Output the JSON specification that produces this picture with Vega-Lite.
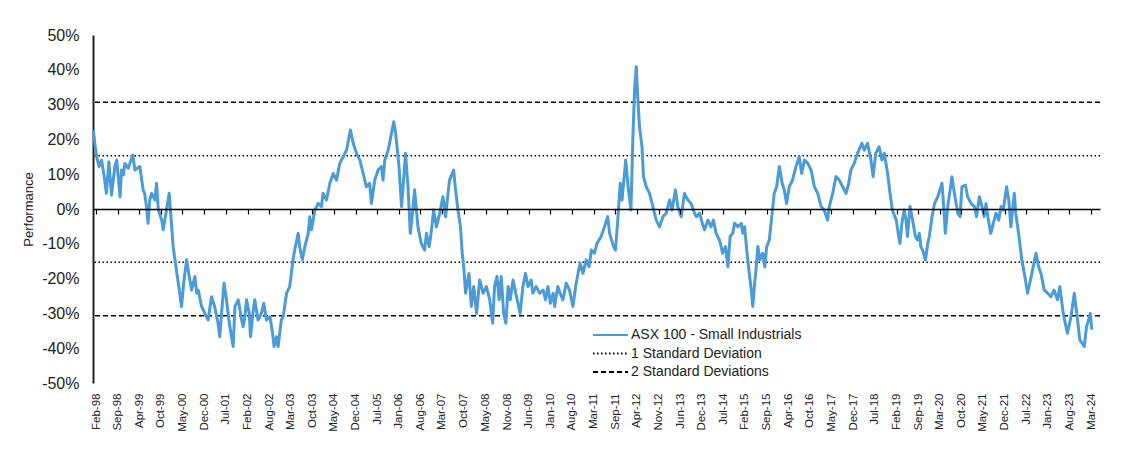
{
  "$schema": "https://vega.github.io/schema/vega-lite/v6.json",
  "width": 1007,
  "height": 348,
  "autosize": {"type": "none"},
  "padding": {"left": 93, "top": 35, "right": 26, "bottom": 77},
  "background": "white",
  "config": {"view": {"stroke": null}, "font": "Liberation Sans", "axisY": {"labelOverlap": false}, "axis": {"labelOverlap": false}},
  "datasets": {
    "refs": [
      {"series": "1 Standard Deviation", "v": 15.3},
      {"series": "1 Standard Deviation", "v": -15.3},
      {"series": "2 Standard Deviations", "v": 30.7},
      {"series": "2 Standard Deviations", "v": -30.7}
    ],
    "perf": [
      {"d": "1998-01-21", "v": 22.7}, {"d": "1998-02-08", "v": 17.9}, {"d": "1998-02-22", "v": 15.0}, {"d": "1998-03-18", "v": 12.2},
      {"d": "1998-04-10", "v": 14.1}, {"d": "1998-05-03", "v": 9.8}, {"d": "1998-05-26", "v": 4.5}, {"d": "1998-06-19", "v": 13.6},
      {"d": "1998-07-14", "v": 4.0}, {"d": "1998-08-15", "v": 12.2}, {"d": "1998-09-02", "v": 14.1}, {"d": "1998-10-04", "v": 3.5},
      {"d": "1998-10-18", "v": 11.2}, {"d": "1998-11-05", "v": 9.8}, {"d": "1998-11-19", "v": 13.1}, {"d": "1998-12-21", "v": 11.7},
      {"d": "1999-02-03", "v": 15.5}, {"d": "1999-02-23", "v": 11.2}, {"d": "1999-04-11", "v": 12.2}, {"d": "1999-05-13", "v": 5.5},
      {"d": "1999-05-27", "v": 4.5}, {"d": "1999-06-14", "v": 0.7}, {"d": "1999-06-29", "v": -4.1}, {"d": "1999-07-15", "v": 2.6},
      {"d": "1999-08-02", "v": 4.5}, {"d": "1999-09-03", "v": 2.6}, {"d": "1999-09-18", "v": 7.4}, {"d": "1999-10-05", "v": -0.3},
      {"d": "1999-11-06", "v": -3.2}, {"d": "1999-11-21", "v": -6.0}, {"d": "1999-12-22", "v": -0.3}, {"d": "2000-01-17", "v": 4.5},
      {"d": "2000-02-10", "v": -5.1}, {"d": "2000-02-24", "v": -10.8}, {"d": "2000-03-12", "v": -14.6}, {"d": "2000-04-04", "v": -19.4},
      {"d": "2000-04-27", "v": -24.2}, {"d": "2000-05-14", "v": -28.0}, {"d": "2000-06-07", "v": -20.4}, {"d": "2000-07-02", "v": -14.6},
      {"d": "2000-07-22", "v": -18.5}, {"d": "2000-08-18", "v": -23.3}, {"d": "2000-09-19", "v": -19.4}, {"d": "2000-10-06", "v": -24.2},
      {"d": "2000-10-21", "v": -23.3}, {"d": "2000-11-22", "v": -28.0}, {"d": "2000-12-23", "v": -30.0}, {"d": "2001-01-24", "v": -31.9},
      {"d": "2001-02-25", "v": -25.2}, {"d": "2001-03-27", "v": -28.0}, {"d": "2001-04-28", "v": -32.8}, {"d": "2001-05-15", "v": -36.7},
      {"d": "2001-06-01", "v": -30.0}, {"d": "2001-06-25", "v": -21.3}, {"d": "2001-07-18", "v": -26.1}, {"d": "2001-08-19", "v": -33.8},
      {"d": "2001-09-20", "v": -39.5}, {"d": "2001-10-07", "v": -28.0}, {"d": "2001-11-08", "v": -26.1}, {"d": "2001-12-10", "v": -31.9},
      {"d": "2001-12-24", "v": -33.8}, {"d": "2002-01-11", "v": -30.9}, {"d": "2002-01-26", "v": -26.1}, {"d": "2002-02-21", "v": -30.0},
      {"d": "2002-03-05", "v": -36.7}, {"d": "2002-03-28", "v": -30.0}, {"d": "2002-04-15", "v": -26.1}, {"d": "2002-05-16", "v": -31.9},
      {"d": "2002-06-17", "v": -30.0}, {"d": "2002-07-10", "v": -27.1}, {"d": "2002-08-05", "v": -31.9}, {"d": "2002-09-07", "v": -30.9},
      {"d": "2002-10-02", "v": -35.7}, {"d": "2002-10-17", "v": -39.5}, {"d": "2002-11-09", "v": -36.7}, {"d": "2002-11-24", "v": -39.5},
      {"d": "2002-12-25", "v": -31.9}, {"d": "2003-01-12", "v": -30.9}, {"d": "2003-02-13", "v": -24.2}, {"d": "2003-03-15", "v": -22.3},
      {"d": "2003-04-16", "v": -14.6}, {"d": "2003-05-02", "v": -11.8}, {"d": "2003-06-04", "v": -7.0}, {"d": "2003-06-18", "v": -10.8},
      {"d": "2003-07-14", "v": -14.6}, {"d": "2003-08-07", "v": -10.8}, {"d": "2003-09-08", "v": -7.0}, {"d": "2003-09-23", "v": -2.2},
      {"d": "2003-10-09", "v": -6.0}, {"d": "2003-11-11", "v": -0.3}, {"d": "2003-12-12", "v": 1.6}, {"d": "2004-01-13", "v": 0.7},
      {"d": "2004-01-28", "v": 4.5}, {"d": "2004-03-01", "v": 2.6}, {"d": "2004-04-02", "v": 7.4}, {"d": "2004-05-04", "v": 10.2},
      {"d": "2004-06-05", "v": 8.3}, {"d": "2004-07-06", "v": 13.1}, {"d": "2004-08-08", "v": 15.0}, {"d": "2004-09-09", "v": 16.9},
      {"d": "2004-10-16", "v": 22.7}, {"d": "2004-11-12", "v": 18.9}, {"d": "2004-12-13", "v": 16.0}, {"d": "2005-01-14", "v": 14.1},
      {"d": "2005-02-15", "v": 10.2}, {"d": "2005-03-17", "v": 6.4}, {"d": "2005-04-18", "v": 7.4}, {"d": "2005-05-05", "v": 1.6},
      {"d": "2005-06-06", "v": 8.3}, {"d": "2005-07-08", "v": 11.2}, {"d": "2005-08-09", "v": 12.2}, {"d": "2005-08-24", "v": 8.3},
      {"d": "2005-09-10", "v": 14.1}, {"d": "2005-10-12", "v": 16.9}, {"d": "2005-11-13", "v": 21.7}, {"d": "2005-12-05", "v": 25.1},
      {"d": "2005-12-23", "v": 21.7}, {"d": "2006-01-24", "v": 12.2}, {"d": "2006-02-17", "v": 0.7}, {"d": "2006-03-04", "v": 6.4},
      {"d": "2006-03-27", "v": 16.0}, {"d": "2006-04-20", "v": 6.4}, {"d": "2006-05-12", "v": -7.0}, {"d": "2006-06-02", "v": -1.2},
      {"d": "2006-06-22", "v": 5.5}, {"d": "2006-07-24", "v": -5.1}, {"d": "2006-08-25", "v": -9.9}, {"d": "2006-09-26", "v": -11.8},
      {"d": "2006-10-13", "v": -7.0}, {"d": "2006-11-09", "v": -10.8}, {"d": "2006-12-01", "v": -6.0}, {"d": "2006-12-21", "v": -0.3},
      {"d": "2007-01-17", "v": -5.1}, {"d": "2007-02-18", "v": -1.2}, {"d": "2007-03-20", "v": 3.5}, {"d": "2007-04-15", "v": -2.2},
      {"d": "2007-05-08", "v": 4.5}, {"d": "2007-05-22", "v": 8.3}, {"d": "2007-07-01", "v": 11.2}, {"d": "2007-07-16", "v": 6.4},
      {"d": "2007-08-11", "v": -0.3}, {"d": "2007-09-04", "v": -5.1}, {"d": "2007-09-21", "v": -12.7}, {"d": "2007-10-05", "v": -16.6},
      {"d": "2007-10-23", "v": -24.2}, {"d": "2007-11-24", "v": -18.5}, {"d": "2007-12-17", "v": -28.0}, {"d": "2008-01-09", "v": -22.3},
      {"d": "2008-02-05", "v": -30.0}, {"d": "2008-03-06", "v": -20.4}, {"d": "2008-04-07", "v": -24.2}, {"d": "2008-05-09", "v": -22.3},
      {"d": "2008-06-10", "v": -26.1}, {"d": "2008-07-08", "v": -32.8}, {"d": "2008-07-26", "v": -22.3}, {"d": "2008-08-18", "v": -19.4},
      {"d": "2008-09-08", "v": -26.1}, {"d": "2008-09-28", "v": -19.4}, {"d": "2008-10-21", "v": -30.0}, {"d": "2008-11-11", "v": -32.8},
      {"d": "2008-12-03", "v": -22.3}, {"d": "2008-12-23", "v": -26.1}, {"d": "2009-01-19", "v": -20.4}, {"d": "2009-02-14", "v": -24.2},
      {"d": "2009-03-28", "v": -30.0}, {"d": "2009-04-23", "v": -22.3}, {"d": "2009-05-18", "v": -18.5}, {"d": "2009-06-11", "v": -22.3},
      {"d": "2009-07-12", "v": -20.4}, {"d": "2009-07-27", "v": -24.2}, {"d": "2009-08-28", "v": -22.3}, {"d": "2009-10-02", "v": -24.2},
      {"d": "2009-11-03", "v": -23.3}, {"d": "2009-11-26", "v": -26.1}, {"d": "2009-12-19", "v": -22.3}, {"d": "2010-01-11", "v": -27.1},
      {"d": "2010-02-07", "v": -24.2}, {"d": "2010-02-21", "v": -28.0}, {"d": "2010-03-23", "v": -22.3}, {"d": "2010-04-15", "v": -24.2},
      {"d": "2010-05-11", "v": -26.1}, {"d": "2010-06-12", "v": -21.3}, {"d": "2010-07-13", "v": -23.3}, {"d": "2010-08-15", "v": -28.0},
      {"d": "2010-09-10", "v": -22.3}, {"d": "2010-10-03", "v": -18.5}, {"d": "2010-10-23", "v": -15.6}, {"d": "2010-11-19", "v": -18.5},
      {"d": "2010-12-20", "v": -14.6}, {"d": "2011-01-16", "v": -16.6}, {"d": "2011-02-08", "v": -11.8}, {"d": "2011-03-09", "v": -12.7},
      {"d": "2011-04-02", "v": -9.9}, {"d": "2011-05-12", "v": -7.9}, {"d": "2011-06-13", "v": -5.1}, {"d": "2011-07-14", "v": -2.2},
      {"d": "2011-08-01", "v": -7.0}, {"d": "2011-09-08", "v": -10.8}, {"d": "2011-09-26", "v": -11.8}, {"d": "2011-10-18", "v": -3.2},
      {"d": "2011-11-11", "v": 7.4}, {"d": "2011-11-28", "v": 2.6}, {"d": "2012-01-02", "v": 14.1}, {"d": "2012-01-25", "v": 6.4},
      {"d": "2012-02-21", "v": -0.3}, {"d": "2012-03-11", "v": 20.8}, {"d": "2012-03-28", "v": 35.1}, {"d": "2012-04-12", "v": 40.9},
      {"d": "2012-04-24", "v": 33.2}, {"d": "2012-05-13", "v": 23.6}, {"d": "2012-06-06", "v": 17.9}, {"d": "2012-06-20", "v": 9.3},
      {"d": "2012-07-16", "v": 6.4}, {"d": "2012-08-17", "v": 4.5}, {"d": "2012-09-18", "v": 0.7}, {"d": "2012-10-20", "v": -3.2},
      {"d": "2012-11-21", "v": -5.1}, {"d": "2012-12-23", "v": -2.2}, {"d": "2013-01-24", "v": -1.2}, {"d": "2013-02-25", "v": 2.6},
      {"d": "2013-03-20", "v": -0.3}, {"d": "2013-04-22", "v": 5.5}, {"d": "2013-05-14", "v": 0.7}, {"d": "2013-06-16", "v": -2.2},
      {"d": "2013-07-17", "v": 4.5}, {"d": "2013-08-18", "v": 2.6}, {"d": "2013-09-19", "v": 1.6}, {"d": "2013-10-21", "v": -1.2},
      {"d": "2013-11-08", "v": -2.2}, {"d": "2013-12-09", "v": -1.2}, {"d": "2014-01-04", "v": -4.1}, {"d": "2014-01-25", "v": -6.0},
      {"d": "2014-02-26", "v": -3.2}, {"d": "2014-03-28", "v": -5.1}, {"d": "2014-04-20", "v": -3.2}, {"d": "2014-05-16", "v": -7.0},
      {"d": "2014-06-17", "v": -8.9}, {"d": "2014-07-18", "v": -12.7}, {"d": "2014-08-14", "v": -10.8}, {"d": "2014-09-06", "v": -16.6},
      {"d": "2014-09-27", "v": -7.9}, {"d": "2014-10-22", "v": -7.0}, {"d": "2014-11-09", "v": -4.1}, {"d": "2014-12-10", "v": -5.1},
      {"d": "2015-01-12", "v": -4.1}, {"d": "2015-01-26", "v": -7.0}, {"d": "2015-02-13", "v": -5.1}, {"d": "2015-03-05", "v": -11.8},
      {"d": "2015-03-29", "v": -18.5}, {"d": "2015-04-21", "v": -24.2}, {"d": "2015-05-02", "v": -28.0}, {"d": "2015-05-17", "v": -22.3},
      {"d": "2015-06-04", "v": -16.6}, {"d": "2015-06-19", "v": -10.8}, {"d": "2015-07-09", "v": -14.6}, {"d": "2015-08-05", "v": -12.7},
      {"d": "2015-08-25", "v": -16.6}, {"d": "2015-09-12", "v": -10.8}, {"d": "2015-10-07", "v": -8.9}, {"d": "2015-11-03", "v": -1.2},
      {"d": "2015-11-23", "v": 4.5}, {"d": "2015-12-16", "v": 6.4}, {"d": "2016-01-11", "v": 12.2}, {"d": "2016-02-07", "v": 7.4},
      {"d": "2016-02-27", "v": 5.5}, {"d": "2016-03-20", "v": 1.6}, {"d": "2016-04-15", "v": 6.4}, {"d": "2016-05-16", "v": 8.3},
      {"d": "2016-06-18", "v": 12.2}, {"d": "2016-07-19", "v": 15.0}, {"d": "2016-08-12", "v": 10.2}, {"d": "2016-09-07", "v": 14.1},
      {"d": "2016-10-09", "v": 13.1}, {"d": "2016-11-10", "v": 11.2}, {"d": "2016-12-11", "v": 6.4}, {"d": "2017-01-12", "v": 4.5},
      {"d": "2017-02-14", "v": 0.7}, {"d": "2017-03-15", "v": -0.3}, {"d": "2017-04-16", "v": -3.2}, {"d": "2017-05-03", "v": 0.7},
      {"d": "2017-06-04", "v": 4.5}, {"d": "2017-07-06", "v": 9.3}, {"d": "2017-08-07", "v": 8.3}, {"d": "2017-09-08", "v": 6.4},
      {"d": "2017-10-10", "v": 4.5}, {"d": "2017-11-05", "v": 7.4}, {"d": "2017-11-25", "v": 11.2}, {"d": "2017-12-27", "v": 13.1},
      {"d": "2018-01-28", "v": 16.0}, {"d": "2018-03-10", "v": 18.9}, {"d": "2018-04-03", "v": 16.9}, {"d": "2018-05-04", "v": 18.9},
      {"d": "2018-06-05", "v": 14.1}, {"d": "2018-06-26", "v": 9.3}, {"d": "2018-07-21", "v": 16.0}, {"d": "2018-08-23", "v": 17.9},
      {"d": "2018-09-18", "v": 14.1}, {"d": "2018-10-11", "v": 16.0}, {"d": "2018-11-12", "v": 10.2}, {"d": "2018-12-05", "v": 4.5},
      {"d": "2018-12-28", "v": -0.3}, {"d": "2019-01-07", "v": -1.2}, {"d": "2019-02-03", "v": -3.2}, {"d": "2019-02-26", "v": -7.9},
      {"d": "2019-03-10", "v": -9.9}, {"d": "2019-03-28", "v": -4.1}, {"d": "2019-04-20", "v": -0.3}, {"d": "2019-05-07", "v": -3.2},
      {"d": "2019-05-21", "v": -7.9}, {"d": "2019-06-14", "v": 0.7}, {"d": "2019-07-09", "v": -3.2}, {"d": "2019-08-05", "v": -7.9},
      {"d": "2019-08-25", "v": -8.9}, {"d": "2019-09-12", "v": -7.0}, {"d": "2019-09-26", "v": -10.8}, {"d": "2019-10-13", "v": -11.8},
      {"d": "2019-11-09", "v": -14.6}, {"d": "2019-12-01", "v": -9.9}, {"d": "2019-12-16", "v": -7.9}, {"d": "2020-01-11", "v": -2.2},
      {"d": "2020-02-04", "v": 1.6}, {"d": "2020-03-05", "v": 3.5}, {"d": "2020-03-26", "v": 5.5}, {"d": "2020-04-15", "v": 7.4},
      {"d": "2020-04-27", "v": 2.6}, {"d": "2020-05-17", "v": -7.0}, {"d": "2020-06-09", "v": 0.7}, {"d": "2020-07-02", "v": 5.5},
      {"d": "2020-07-19", "v": 9.3}, {"d": "2020-08-12", "v": 4.5}, {"d": "2020-09-13", "v": -1.2}, {"d": "2020-10-05", "v": -2.2},
      {"d": "2020-10-23", "v": 6.4}, {"d": "2020-11-25", "v": 6.9}, {"d": "2020-12-17", "v": 3.5}, {"d": "2021-01-18", "v": 1.6},
      {"d": "2021-02-20", "v": 0.7}, {"d": "2021-03-12", "v": -2.2}, {"d": "2021-04-08", "v": 3.5}, {"d": "2021-05-03", "v": 0.7},
      {"d": "2021-05-24", "v": -2.2}, {"d": "2021-06-10", "v": 1.6}, {"d": "2021-07-03", "v": -3.2}, {"d": "2021-07-26", "v": -7.0},
      {"d": "2021-08-19", "v": -4.1}, {"d": "2021-09-14", "v": -1.2}, {"d": "2021-10-10", "v": -3.2}, {"d": "2021-11-02", "v": 0.7},
      {"d": "2021-11-23", "v": -0.3}, {"d": "2021-12-24", "v": 6.4}, {"d": "2022-01-14", "v": 2.6}, {"d": "2022-02-03", "v": -5.1},
      {"d": "2022-03-08", "v": 4.5}, {"d": "2022-03-22", "v": -1.2}, {"d": "2022-04-18", "v": -7.0}, {"d": "2022-05-19", "v": -14.6},
      {"d": "2022-06-12", "v": -18.5}, {"d": "2022-07-13", "v": -24.2}, {"d": "2022-08-23", "v": -18.5}, {"d": "2022-10-02", "v": -12.7},
      {"d": "2022-10-26", "v": -16.6}, {"d": "2022-11-18", "v": -18.5}, {"d": "2022-12-19", "v": -23.3}, {"d": "2023-01-21", "v": -24.2},
      {"d": "2023-02-22", "v": -25.2}, {"d": "2023-03-23", "v": -23.3}, {"d": "2023-04-25", "v": -26.1}, {"d": "2023-05-18", "v": -22.3},
      {"d": "2023-06-19", "v": -30.0}, {"d": "2023-07-29", "v": -35.7}, {"d": "2023-09-02", "v": -30.9}, {"d": "2023-10-03", "v": -24.2},
      {"d": "2023-10-27", "v": -30.0}, {"d": "2023-11-25", "v": -37.6}, {"d": "2024-01-07", "v": -39.5}, {"d": "2024-01-28", "v": -33.8},
      {"d": "2024-02-17", "v": -31.9}, {"d": "2024-03-04", "v": -30.0}, {"d": "2024-03-19", "v": -34.7}
    ]
  },
  "layer": [
    {
      "data": {"name": "refs"},
      "mark": {"type": "rule", "strokeWidth": 1.5},
      "encoding": {
        "y": {
          "field": "v", "type": "quantitative", "scale": {"domain": [-50, 50], "nice": false},
          "axis": {
            "title": "Performance", "titleFontSize": 13, "titleFontWeight": "normal", "titleColor": "#222222",
            "titleX": -65, "titleY": 174, "titleBaseline": "middle",
            "values": [-50, -40, -30, -20, -10, 0, 10, 20, 30, 40, 50],
            "labelExpr": "datum.value + '%'", "labelFontSize": 16, "labelColor": "#222222", "labelOverlap": false,
            "ticks": false, "labelPadding": 14, "domainColor": "#222222", "domainWidth": 2, "grid": false
          }
        },
        "color": {
          "field": "series", "type": "nominal",
          "scale": {"domain": ["ASX 100 - Small Industrials", "1 Standard Deviation", "2 Standard Deviations"], "range": ["#4A9BD7", "#000000", "#000000"]},
          "legend": {
            "title": null, "orient": "none", "legendX": 499, "legendY": 292,
            "symbolType": "stroke", "symbolSize": 1225, "symbolStrokeWidth": 2,
            "clipHeight": 16, "rowPadding": 2.5, "labelOffset": 2, "labelLimit": 400,
            "labelFontSize": 14, "labelColor": "#222222", "labelFont": "Liberation Sans"
          }
        },
        "strokeDash": {
          "field": "series", "type": "nominal",
          "scale": {"domain": ["ASX 100 - Small Industrials", "1 Standard Deviation", "2 Standard Deviations"], "range": [[1, 0], [1.5, 2.5], [5, 3]]}
        }
      }
    },
    {
      "data": {"name": "perf"},
      "mark": {"type": "line", "strokeWidth": 3, "color": "#4A9BD7", "strokeJoin": "round"},
      "encoding": {
        "x": {
          "field": "d", "type": "temporal",
          "scale": {"domain": [{"year": 1998, "month": 1, "date": 18}, {"year": 2024, "month": 6, "date": 5}]},
          "axis": {
            "title": null, "format": "%b-%y", "labelAngle": -90, "labelAlign": "right", "labelBaseline": "middle",
            "labelFontSize": 11.5, "labelColor": "#222222", "labelOverlap": false, "labelFlush": false,
            "offset": -174, "labelPadding": 179, "tickSize": 5, "tickColor": "#000000", "tickWidth": 1.2,
            "domainColor": "#000000", "domainWidth": 1.5, "grid": false, "zindex": 1,
            "values": [
              {"year": 1998, "month": 2, "date": 16}, {"year": 1998, "month": 9, "date": 11}, {"year": 1999, "month": 4, "date": 5},
              {"year": 1999, "month": 10, "date": 29}, {"year": 2000, "month": 5, "date": 23}, {"year": 2000, "month": 12, "date": 17},
              {"year": 2001, "month": 7, "date": 11}, {"year": 2002, "month": 2, "date": 5}, {"year": 2002, "month": 8, "date": 29},
              {"year": 2003, "month": 3, "date": 22}, {"year": 2003, "month": 10, "date": 17}, {"year": 2004, "month": 5, "date": 11},
              {"year": 2004, "month": 12, "date": 5}, {"year": 2005, "month": 7, "date": 1}, {"year": 2006, "month": 1, "date": 23},
              {"year": 2006, "month": 8, "date": 17}, {"year": 2007, "month": 3, "date": 11}, {"year": 2007, "month": 10, "date": 5},
              {"year": 2008, "month": 5, "date": 1}, {"year": 2008, "month": 11, "date": 23}, {"year": 2009, "month": 6, "date": 17},
              {"year": 2010, "month": 1, "date": 11}, {"year": 2010, "month": 8, "date": 5}, {"year": 2011, "month": 3, "date": 1},
              {"year": 2011, "month": 9, "date": 23}, {"year": 2012, "month": 4, "date": 17}, {"year": 2012, "month": 11, "date": 11},
              {"year": 2013, "month": 6, "date": 5}, {"year": 2013, "month": 12, "date": 29}, {"year": 2014, "month": 7, "date": 23},
              {"year": 2015, "month": 2, "date": 16}, {"year": 2015, "month": 9, "date": 11}, {"year": 2016, "month": 4, "date": 5},
              {"year": 2016, "month": 10, "date": 29}, {"year": 2017, "month": 5, "date": 23}, {"year": 2017, "month": 12, "date": 17},
              {"year": 2018, "month": 7, "date": 11}, {"year": 2019, "month": 2, "date": 5}, {"year": 2019, "month": 9, "date": 1},
              {"year": 2020, "month": 3, "date": 23}, {"year": 2020, "month": 10, "date": 17}, {"year": 2021, "month": 5, "date": 11},
              {"year": 2021, "month": 12, "date": 5}, {"year": 2022, "month": 7, "date": 1}, {"year": 2023, "month": 1, "date": 23},
              {"year": 2023, "month": 8, "date": 17}, {"year": 2024, "month": 3, "date": 11}
            ]
          }
        },
        "y": {
          "field": "v", "type": "quantitative",
          "scale": {"domain": [-50, 50], "nice": false},
          "axis": {
            "title": "Performance", "titleFontSize": 13, "titleFontWeight": "normal", "titleColor": "#222222",
            "titleX": -65, "titleY": 174, "titleBaseline": "middle",
            "values": [-50, -40, -30, -20, -10, 0, 10, 20, 30, 40, 50],
            "labelExpr": "datum.value + '%'", "labelFontSize": 16, "labelColor": "#222222", "labelOverlap": false,
            "ticks": false, "labelPadding": 14, "domainColor": "#222222", "domainWidth": 2, "grid": false
          }
        }
      }
    }
  ]
}
